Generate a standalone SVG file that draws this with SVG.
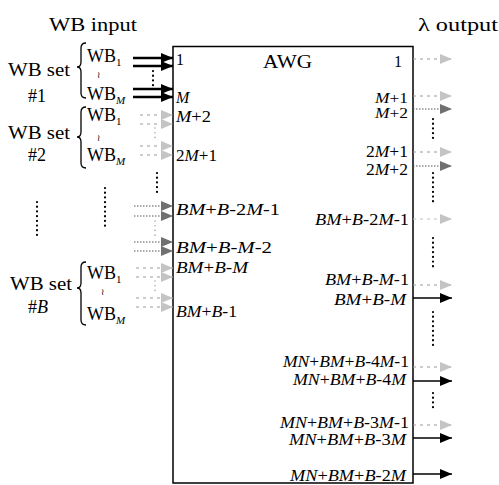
<svg xmlns="http://www.w3.org/2000/svg" width="499" height="485" viewBox="0 0 499 485">
<style>
.t{font-family:"Liberation Serif","Times New Roman",serif;font-size:16px;fill:#000}
.big{font-size:18px}
.sm{font-size:14.5px}
.i{font-style:italic}
.sub{font-size:11px}
.tl{font-family:"DejaVu Serif",serif;font-size:9px;fill:#000}
.blk{stroke:#000;stroke-width:2.4;fill:none}
.blk2{stroke:#000;stroke-width:1.6;fill:none}
.lt{stroke:#9a9a9a;stroke-width:1;stroke-dasharray:3 4;fill:none}
.vlt{stroke:#c0c0c0;stroke-width:1;stroke-dasharray:3 4;fill:none}
.dk{stroke:#555;stroke-width:1;stroke-dasharray:1.5 1.5;fill:none}
.dots{stroke:#000;stroke-width:2.2;stroke-dasharray:0.1 4.6;stroke-linecap:round;fill:none}
.gdots{stroke:#aaa;stroke-width:1.6;stroke-dasharray:0.1 4.6;stroke-linecap:round;fill:none}
.br{stroke:#000;stroke-width:1.3;fill:none}
</style>
<defs>
<marker id="hb" markerUnits="userSpaceOnUse" markerWidth="13" markerHeight="10" refX="12" refY="5" orient="auto"><path d="M0,0 L12,5 L0,10 z" fill="#000"/></marker>
<marker id="hl" markerUnits="userSpaceOnUse" markerWidth="13" markerHeight="10" refX="12" refY="5" orient="auto"><path d="M0,0 L12,5 L0,10 z" fill="#c4c4c4"/></marker>
<marker id="hd" markerUnits="userSpaceOnUse" markerWidth="13" markerHeight="10" refX="12" refY="5" orient="auto"><path d="M0,0 L12,5 L0,10 z" fill="#707070"/></marker>
</defs>

<g id="titles">
<text class="t big" x="49" y="31" textLength="88" lengthAdjust="spacingAndGlyphs">WB input</text>
<text class="t big" x="418" y="31" textLength="80" lengthAdjust="spacingAndGlyphs">λ output</text>
</g>

<g id="set1">
<text class="t big" x="8" y="76" textLength="62" lengthAdjust="spacingAndGlyphs">WB set</text>
<text class="t big" x="28" y="102">#1</text>
<path class="br" d="M86,43 Q81,43 81,48 L81,62 Q81,67 77,67 Q81,67 81,72 L81,93 Q81,98 86,98"/>
<text class="t big" x="87" y="62">WB<tspan class="sub" dy="4">1</tspan></text>
<text class="tl" x="97" y="78">≀</text>
<text class="t big" x="87" y="100">WB<tspan class="sub i" dy="4">M</tspan></text>
</g>

<g id="set2">
<text class="t big" x="8" y="139" textLength="62" lengthAdjust="spacingAndGlyphs">WB set</text>
<text class="t big" x="28" y="161">#2</text>
<path class="br" d="M86,107 Q81,107 81,112 L81,132 Q81,137 77,137 Q81,137 81,142 L81,163 Q81,168 86,168"/>
<text class="t big" x="87" y="121">WB<tspan class="sub" dy="4">1</tspan></text>
<text class="tl" x="97" y="141">≀</text>
<text class="t big" x="87" y="161">WB<tspan class="sub i" dy="4">M</tspan></text>
</g>

<g id="setB">
<text class="t big" x="10" y="290" textLength="62" lengthAdjust="spacingAndGlyphs">WB set</text>
<text class="t big" x="28" y="313">#<tspan class="i">B</tspan></text>
<path class="br" d="M86,262 Q81,262 81,267 L81,283 Q81,288 77,288 Q81,288 81,293 L81,320 Q81,325 86,325"/>
<text class="t big" x="87" y="279">WB<tspan class="sub" dy="4">1</tspan></text>
<text class="tl" x="101" y="295">≀</text>
<text class="t big" x="87" y="320">WB<tspan class="sub i" dy="4">M</tspan></text>
</g>

<g id="awg">
<rect x="173" y="46.5" width="240" height="436.5" fill="none" stroke="#000" stroke-width="1.5"/>
<text class="t big" x="263" y="68" textLength="49" lengthAdjust="spacingAndGlyphs">AWG</text>
<g id="in-labels">
<text class="t" x="176" y="65">1</text>
<text class="t i" x="176" y="103">M</text>
<text class="t" x="176" y="122" textLength="35" lengthAdjust="spacingAndGlyphs"><tspan class="i">M</tspan>+2</text>
<text class="t" x="176" y="161" textLength="41" lengthAdjust="spacingAndGlyphs">2<tspan class="i">M</tspan>+1</text>
<text class="t" x="176" y="215" textLength="104" lengthAdjust="spacingAndGlyphs"><tspan class="i">BM</tspan>+<tspan class="i">B</tspan>-2<tspan class="i">M</tspan>-1</text>
<text class="t" x="176" y="253" textLength="96" lengthAdjust="spacingAndGlyphs"><tspan class="i">BM</tspan>+<tspan class="i">B</tspan>-<tspan class="i">M</tspan>-2</text>
<text class="t" x="176" y="273" textLength="72" lengthAdjust="spacingAndGlyphs"><tspan class="i">BM</tspan>+<tspan class="i">B</tspan>-<tspan class="i">M</tspan></text>
<text class="t" x="176" y="317" textLength="61" lengthAdjust="spacingAndGlyphs"><tspan class="i">BM</tspan>+<tspan class="i">B</tspan>-1</text>
</g>
<g id="out-labels" text-anchor="end">
<text class="t" x="402" y="67">1</text>
<text class="t sm" x="408" y="103" textLength="33" lengthAdjust="spacingAndGlyphs"><tspan class="i">M</tspan>+1</text>
<text class="t sm" x="408" y="118" textLength="33" lengthAdjust="spacingAndGlyphs"><tspan class="i">M</tspan>+2</text>
<text class="t" x="408" y="157" textLength="42" lengthAdjust="spacingAndGlyphs">2<tspan class="i">M</tspan>+1</text>
<text class="t" x="408" y="175" textLength="42" lengthAdjust="spacingAndGlyphs">2<tspan class="i">M</tspan>+2</text>
<text class="t" x="409" y="225" textLength="94" lengthAdjust="spacingAndGlyphs"><tspan class="i">BM</tspan>+<tspan class="i">B</tspan>-2<tspan class="i">M</tspan>-1</text>
<text class="t" x="409" y="285" textLength="84" lengthAdjust="spacingAndGlyphs"><tspan class="i">BM</tspan>+<tspan class="i">B</tspan>-<tspan class="i">M</tspan>-1</text>
<text class="t" x="406" y="305" textLength="72" lengthAdjust="spacingAndGlyphs"><tspan class="i">BM</tspan>+<tspan class="i">B</tspan>-<tspan class="i">M</tspan></text>
<text class="t" x="409" y="367" textLength="126" lengthAdjust="spacingAndGlyphs"><tspan class="i">MN</tspan>+<tspan class="i">BM</tspan>+<tspan class="i">B</tspan>-4<tspan class="i">M</tspan>-1</text>
<text class="t" x="406" y="385" textLength="113" lengthAdjust="spacingAndGlyphs"><tspan class="i">MN</tspan>+<tspan class="i">BM</tspan>+<tspan class="i">B</tspan>-4<tspan class="i">M</tspan></text>
<text class="t" x="409" y="428" textLength="129" lengthAdjust="spacingAndGlyphs"><tspan class="i">MN</tspan>+<tspan class="i">BM</tspan>+<tspan class="i">B</tspan>-3<tspan class="i">M</tspan>-1</text>
<text class="t" x="406" y="445" textLength="117" lengthAdjust="spacingAndGlyphs"><tspan class="i">MN</tspan>+<tspan class="i">BM</tspan>+<tspan class="i">B</tspan>-3<tspan class="i">M</tspan></text>
<text class="t" x="406" y="481" textLength="116" lengthAdjust="spacingAndGlyphs"><tspan class="i">MN</tspan>+<tspan class="i">BM</tspan>+<tspan class="i">B</tspan>-2<tspan class="i">M</tspan></text>
</g>
</g>

<g id="connectors">
<line class="blk" x1="133" y1="58" x2="173" y2="58" marker-end="url(#hb)"/>
<line class="blk" x1="133" y1="66" x2="173" y2="66" marker-end="url(#hb)"/>
<line class="blk" x1="133" y1="89" x2="173" y2="89" marker-end="url(#hb)"/>
<line class="blk" x1="133" y1="97" x2="173" y2="97" marker-end="url(#hb)"/>
<line class="lt" x1="140" y1="115" x2="173" y2="115" marker-end="url(#hl)"/>
<line class="lt" x1="140" y1="124" x2="173" y2="124" marker-end="url(#hl)"/>
<line class="lt" x1="140" y1="146" x2="173" y2="146" marker-end="url(#hl)"/>
<line class="lt" x1="140" y1="155" x2="173" y2="155" marker-end="url(#hl)"/>
<line class="dk" x1="134" y1="206" x2="173" y2="206" marker-end="url(#hd)"/>
<line class="dk" x1="134" y1="216" x2="173" y2="216" marker-end="url(#hd)"/>
<line class="dk" x1="134" y1="242" x2="173" y2="242" marker-end="url(#hd)"/>
<line class="dk" x1="134" y1="251" x2="173" y2="251" marker-end="url(#hd)"/>
<line class="lt" x1="136" y1="268" x2="173" y2="268" marker-end="url(#hl)"/>
<line class="lt" x1="136" y1="277" x2="173" y2="277" marker-end="url(#hl)"/>
<line class="lt" x1="136" y1="298" x2="173" y2="298" marker-end="url(#hl)"/>
<line class="lt" x1="136" y1="307" x2="173" y2="307" marker-end="url(#hl)"/>
<line class="lt" x1="413" y1="59" x2="452" y2="59" marker-end="url(#hl)"/>
<line class="lt" x1="413" y1="96" x2="452" y2="96" marker-end="url(#hl)"/>
<line class="dk" x1="413" y1="109" x2="452" y2="109" marker-end="url(#hd)"/>
<line class="lt" x1="413" y1="152" x2="452" y2="152" marker-end="url(#hl)"/>
<line class="dk" x1="413" y1="166" x2="452" y2="166" marker-end="url(#hd)"/>
<line class="vlt" x1="413" y1="219" x2="452" y2="219" marker-end="url(#hl)"/>
<line class="lt" x1="413" y1="285" x2="452" y2="285" marker-end="url(#hl)"/>
<line class="blk2" x1="413" y1="298" x2="452" y2="298" marker-end="url(#hb)"/>
<line class="lt" x1="413" y1="367" x2="452" y2="367" marker-end="url(#hl)"/>
<line class="blk2" x1="413" y1="381" x2="452" y2="381" marker-end="url(#hb)"/>
<line class="lt" x1="413" y1="425" x2="452" y2="425" marker-end="url(#hl)"/>
<line class="blk2" x1="413" y1="438" x2="452" y2="438" marker-end="url(#hb)"/>
<line class="blk2" x1="413" y1="474" x2="452" y2="474" marker-end="url(#hb)"/>
</g>

<g id="ellipses">
<line class="dots" x1="153" y1="71" x2="153" y2="86"/>
<line class="gdots" x1="155" y1="128" x2="155" y2="142"/>
<line class="dots" x1="157" y1="173" x2="157" y2="193"/>
<line class="gdots" x1="155" y1="221" x2="155" y2="237"/>
<line class="gdots" x1="155" y1="281" x2="155" y2="295"/>
<line class="dots" x1="37" y1="202" x2="37" y2="238"/>
<line class="dots" x1="105" y1="188" x2="105" y2="230"/>
<line class="dots" x1="433" y1="119" x2="433" y2="138"/>
<line class="dots" x1="433" y1="173" x2="433" y2="204"/>
<line class="dots" x1="433" y1="238" x2="433" y2="269"/>
<line class="dots" x1="433" y1="312" x2="433" y2="348"/>
<line class="dots" x1="433" y1="393" x2="433" y2="408"/>
</g>
</svg>
